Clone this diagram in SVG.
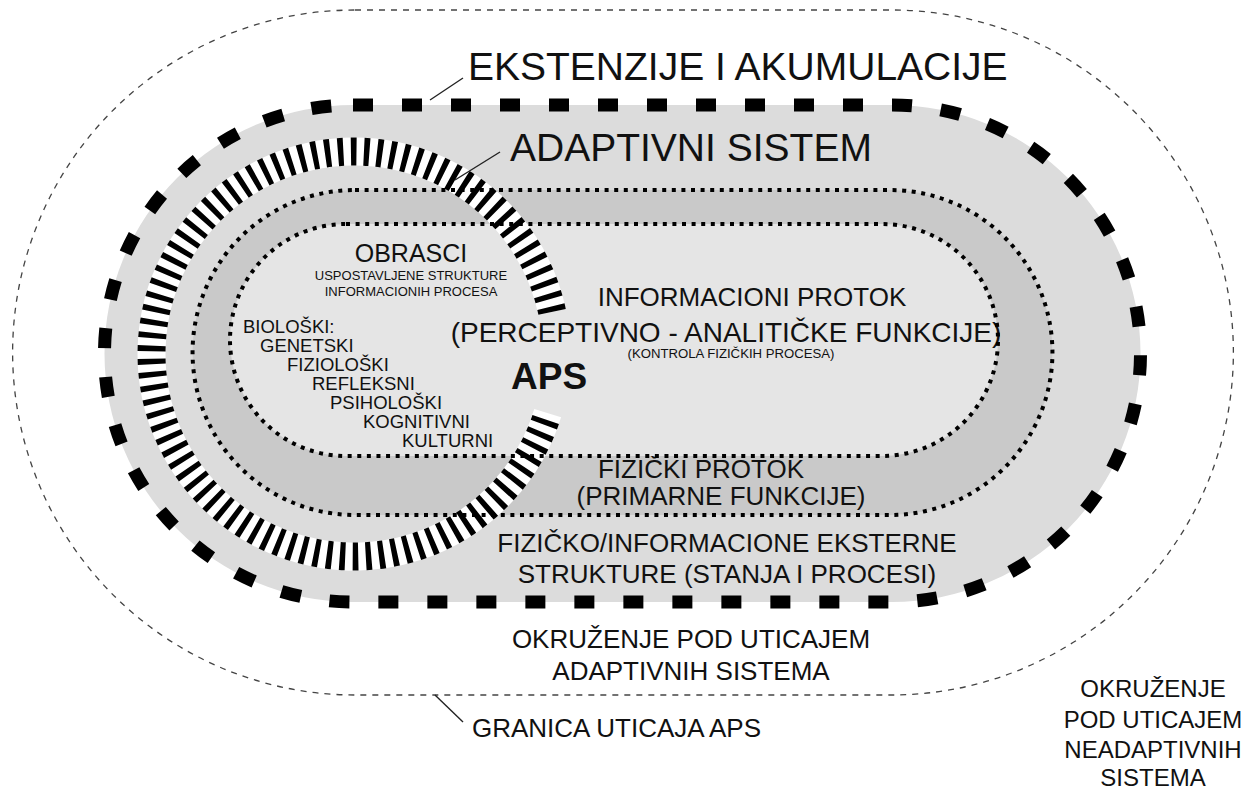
<svg xmlns="http://www.w3.org/2000/svg" width="1250" height="789" viewBox="0 0 1250 789">
<defs>
<style>
.t{font-family:"Liberation Sans",Arial,Helvetica,sans-serif;fill:#111}
.c{text-anchor:middle}
.l{font-size:18.5px}
.thick{fill:none;stroke:#000;stroke-width:13;stroke-dasharray:20 29}
.dot{fill:none;stroke:#000;stroke-width:4;stroke-dasharray:4 5.6}
.thin{fill:none;stroke:#444;stroke-width:1.3;stroke-dasharray:6 6}
.lead{fill:none;stroke:#222;stroke-width:1.4}
</style>
</defs>
<rect width="1250" height="789" fill="#fff"/>

<g id="granica-uticaja">
<path class="thin" d="M355 10 H891 A342.5 342.5 0 0 1 891 695 H355 A342.5 342.5 0 0 1 355 10 Z"/>
<text class="t" x="472" y="737" font-size="26">GRANICA UTICAJA APS</text>
<text class="t c" x="691" y="648" font-size="26">OKRUŽENJE POD UTICAJEM</text>
<text class="t c" x="691" y="680" font-size="26">ADAPTIVNIH SISTEMA</text>
</g>

<g id="neadaptivno-okruzenje">
<text class="t c" x="1153" y="697" font-size="24">OKRUŽENJE</text>
<text class="t c" x="1153" y="728" font-size="24">POD UTICAJEM</text>
<text class="t c" x="1153" y="758" font-size="24">NEADAPTIVNIH</text>
<text class="t c" x="1153" y="786" font-size="24">SISTEMA</text>
</g>

<g id="ekstenzije">
<path d="M353 105 H892 A248.5 248.5 0 0 1 892 602 H353 A248.5 248.5 0 0 1 353 105 Z" fill="#dcdcdc"/>
<text class="t" x="468" y="80" font-size="39">EKSTENZIJE I AKUMULACIJE</text>
<text class="t c" x="727" y="552" font-size="26">FIZIČKO/INFORMACIONE EKSTERNE</text>
<text class="t c" x="727" y="583" font-size="26">STRUKTURE (STANJA I PROCESI)</text>
</g>

<g id="fizicki-protok">
<path d="M355 190 H890 A162.5 162.5 0 0 1 890 515 H355 A162.5 162.5 0 0 1 355 190 Z" fill="#c9c9c9"/>
<text class="t c" x="701" y="478" font-size="26">FIZIČKI PROTOK</text>
<text class="t c" x="721" y="505" font-size="26">(PRIMARNE FUNKCIJE)</text>
</g>

<g id="informacioni-protok">
<path d="M346 224 H882 A116 116 0 0 1 882 456 H346 A116 116 0 0 1 346 224 Z" fill="#e5e5e5"/>
<text class="t c" x="752" y="306" font-size="26">INFORMACIONI PROTOK</text>
<text class="t c" x="726" y="342" font-size="28">(PERCEPTIVNO - ANALITIČKE FUNKCIJE)</text>
<text class="t c" x="731" y="358" font-size="12" textLength="207" lengthAdjust="spacingAndGlyphs">(KONTROLA FIZIČKIH PROCESA)</text>
</g>

<g id="adaptivni-sistem">
<path d="M552.1 311.9 A202.5 202.5 0 1 0 547.7 413.2" fill="none" stroke="#fff" stroke-width="28"/>
<path d="M552.1 311.9 A202.5 202.5 0 1 0 547.7 413.2" fill="none" stroke="#000" stroke-width="28" stroke-dasharray="5.5 7.5"/>
<text class="t" x="510" y="161" font-size="39">ADAPTIVNI SISTEM</text>
</g>

<g id="connectors">
<path class="dot" d="M355 190 H890 A162.5 162.5 0 0 1 890 515 H355 A162.5 162.5 0 0 1 355 190 Z"/>
<path class="dot" d="M346 224 H882 A116 116 0 0 1 882 456 H346 A116 116 0 0 1 346 224 Z"/>
<path class="thick" d="M353 105 H892 A248.5 248.5 0 0 1 892 602 H353 A248.5 248.5 0 0 1 353 105 Z"/>
<line class="lead" x1="463" y1="78" x2="430" y2="100"/>
<line class="lead" x1="500" y1="152" x2="455" y2="180"/>
<line class="lead" x1="435" y1="695" x2="463" y2="722"/>
</g>

<g id="aps">
<text class="t c" x="411" y="262" font-size="25">OBRASCI</text>
<text class="t c" x="411" y="280" font-size="13">USPOSTAVLJENE STRUKTURE</text>
<text class="t c" x="411" y="296" font-size="13">INFORMACIONIH PROCESA</text>
<text class="t l" x="243" y="333">BIOLOŠKI:</text>
<text class="t l" x="260" y="352">GENETSKI</text>
<text class="t l" x="287" y="371">FIZIOLOŠKI</text>
<text class="t l" x="312" y="390">REFLEKSNI</text>
<text class="t l" x="330" y="409">PSIHOLOŠKI</text>
<text class="t l" x="363" y="428">KOGNITIVNI</text>
<text class="t l" x="402" y="447">KULTURNI</text>
<text class="t" x="511" y="389" font-size="37" font-weight="bold">APS</text>
</g>
</svg>
